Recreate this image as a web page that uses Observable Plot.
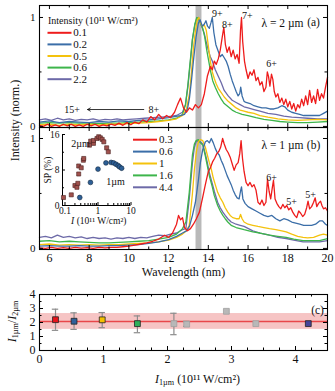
<!DOCTYPE html>
<html><head><meta charset="utf-8">
<script src="https://cdn.jsdelivr.net/npm/d3@7"></script>
<script src="https://cdn.jsdelivr.net/npm/@observablehq/plot@0.6"></script>
<style>
html,body{margin:0;padding:0;background:#fff;}
#fig{position:relative;width:335px;height:391px;overflow:hidden;font-family:"Liberation Serif",serif;}
#fig svg, #fig svg text{font-family:"Liberation Serif",serif !important;}
</style></head>
<body><div id="fig"></div>
<script>
// ---------------- DATA ----------------
const bandNm = [13.38, 13.68];
const legendTitleA = "Intensity (10¹¹ W/cm²)";
const legendA = ["0.1", "0.2", "0.5", "0.6", "2.2"];
const legendB = ["0.3", "0.6", "1", "1.6", "4.4"];

// panel (a), lambda = 2 um  [wavelength nm, normalized intensity]
const a01 = [[5.5,0.01],[5.7,0],[5.9,0.02],[6.1,0],[6.3,0.015],[6.5,0],[6.7,0.02],[6.9,0.005],[7.1,0.02],[7.3,0],[7.5,0.015],[7.7,0],[7.9,0.02],[8.1,0.005],[8.3,0.02],[8.5,0],[8.7,0.015],[8.9,0.005],[9.1,0.02],[9.3,0.01],[9.5,0.03],[9.7,0.01],[9.9,0.035],[10.1,0.015],[10.3,0.04],[10.5,0.025],[10.7,0.06],[10.9,0.04],[11.1,0.09],[11.3,0.06],[11.5,0.11],[11.7,0.07],[11.9,0.1],[12.1,0.08],[12.3,0.13],[12.45,0.2],[12.6,0.26],[12.75,0.17],[12.9,0.13],[13.05,0.17],[13.2,0.15],[13.35,0.2],[13.5,0.17],[13.65,0.2],[13.8,0.3],[13.95,0.46],[14.1,0.55],[14.2,0.52],[14.3,0.6],[14.4,0.57],[14.5,0.62],[14.6,0.7],[14.7,0.82],[14.78,0.91],[14.86,0.75],[14.95,0.68],[15.05,0.73],[15.15,0.64],[15.25,0.7],[15.35,0.62],[15.45,0.66],[15.55,0.58],[15.62,0.88],[15.67,1.0],[15.73,0.78],[15.82,0.6],[15.9,0.52],[16.0,0.44],[16.1,0.5],[16.2,0.47],[16.3,0.52],[16.4,0.42],[16.5,0.45],[16.6,0.38],[16.7,0.41],[16.8,0.32],[16.9,0.36],[16.97,0.5],[17.03,0.46],[17.1,0.37],[17.18,0.48],[17.25,0.43],[17.32,0.32],[17.4,0.27],[17.5,0.3],[17.6,0.22],[17.7,0.26],[17.8,0.2],[17.9,0.25],[18.0,0.18],[18.1,0.23],[18.2,0.16],[18.3,0.21],[18.4,0.14],[18.5,0.2],[18.6,0.17],[18.7,0.25],[18.8,0.19],[18.9,0.28],[19.0,0.2],[19.1,0.33],[19.2,0.22],[19.3,0.28],[19.4,0.21],[19.5,0.34],[19.6,0.24],[19.7,0.3],[19.8,0.26],[19.9,0.36],[20.0,0.45]];
const a02 = [[5.5,0.04],[6,0.05],[6.5,0.035],[7,0.045],[7.5,0.04],[8,0.035],[8.5,0.045],[9,0.04],[9.5,0.05],[10,0.045],[10.5,0.055],[11,0.06],[11.5,0.07],[12,0.08],[12.3,0.09],[12.6,0.1],[12.8,0.11],[12.95,0.16],[13.05,0.26],[13.15,0.42],[13.25,0.6],[13.38,0.82],[13.5,0.95],[13.58,0.98],[13.7,0.92],[13.8,0.94],[13.88,0.97],[13.96,0.92],[14.05,0.9],[14.13,0.95],[14.2,1.0],[14.28,0.86],[14.38,0.75],[14.48,0.7],[14.6,0.64],[14.7,0.66],[14.8,0.63],[14.9,0.6],[15.0,0.55],[15.1,0.48],[15.2,0.42],[15.3,0.37],[15.4,0.32],[15.5,0.28],[15.58,0.3],[15.63,0.36],[15.7,0.28],[15.8,0.23],[15.9,0.22],[16.1,0.21],[16.3,0.19],[16.5,0.18],[16.7,0.17],[16.9,0.17],[17.1,0.16],[17.3,0.16],[17.5,0.17],[17.7,0.19],[17.85,0.18],[18.0,0.15],[18.2,0.13],[18.4,0.12],[18.6,0.11],[18.8,0.1],[19.0,0.1],[19.2,0.1],[19.4,0.1],[19.6,0.1],[19.8,0.12],[20,0.14]];
const a05 = [[5.5,0.015],[6,0.02],[6.5,0.01],[7,0.02],[7.5,0.015],[8,0.02],[8.5,0.015],[9,0.02],[9.5,0.02],[10,0.025],[10.5,0.03],[11,0.035],[11.5,0.045],[12,0.055],[12.4,0.07],[12.7,0.1],[12.9,0.16],[13.05,0.3],[13.15,0.5],[13.25,0.72],[13.35,0.88],[13.45,0.98],[13.52,1.0],[13.6,0.95],[13.7,0.92],[13.8,0.93],[13.9,0.88],[14.0,0.74],[14.1,0.6],[14.2,0.5],[14.3,0.44],[14.4,0.39],[14.5,0.35],[14.65,0.31],[14.8,0.27],[15.0,0.23],[15.2,0.2],[15.4,0.17],[15.6,0.15],[15.8,0.14],[16.0,0.13],[16.3,0.12],[16.6,0.1],[17.0,0.085],[17.5,0.07],[18.0,0.06],[18.5,0.055],[19.0,0.06],[19.5,0.065],[20,0.06]];
const a06 = [[5.5,0.03],[6,0.035],[6.5,0.03],[7,0.035],[7.5,0.03],[8,0.03],[8.5,0.025],[9,0.03],[9.5,0.03],[10,0.035],[10.5,0.04],[11,0.045],[11.5,0.05],[12,0.06],[12.4,0.075],[12.7,0.11],[12.85,0.2],[12.97,0.38],[13.1,0.62],[13.2,0.8],[13.32,0.94],[13.42,1.0],[13.52,0.98],[13.62,0.94],[13.72,0.9],[13.82,0.82],[13.92,0.7],[14.02,0.6],[14.12,0.5],[14.22,0.42],[14.35,0.36],[14.5,0.3],[14.65,0.25],[14.8,0.21],[15.0,0.18],[15.2,0.15],[15.4,0.13],[15.7,0.11],[16.0,0.1],[16.4,0.08],[16.8,0.065],[17.2,0.055],[17.6,0.045],[18.0,0.04],[18.5,0.035],[19.0,0.035],[19.5,0.04],[20,0.045]];
const a22 = [[5.5,0.06],[5.8,0.07],[6.1,0.055],[6.4,0.075],[6.7,0.06],[7.0,0.07],[7.3,0.055],[7.6,0.065],[7.9,0.06],[8.2,0.07],[8.5,0.055],[8.8,0.065],[9.1,0.06],[9.4,0.07],[9.7,0.06],[10.0,0.065],[10.4,0.07],[10.8,0.075],[11.2,0.08],[11.6,0.085],[12.0,0.09],[12.4,0.1],[12.7,0.13],[12.85,0.2],[12.97,0.36],[13.1,0.6],[13.2,0.8],[13.32,0.93],[13.42,0.99],[13.5,1.0],[13.6,0.95],[13.7,0.9],[13.8,0.85],[13.9,0.77],[14.0,0.7],[14.1,0.64],[14.2,0.6],[14.35,0.52],[14.5,0.46],[14.65,0.4],[14.8,0.33],[15.0,0.28],[15.2,0.24],[15.4,0.22],[15.6,0.2],[15.8,0.18],[16.0,0.17],[16.3,0.155],[16.6,0.14],[17.0,0.12],[17.4,0.11],[17.8,0.095],[18.2,0.085],[18.6,0.08],[19.0,0.075],[19.5,0.07],[20,0.07]];

// panel (b), lambda = 1 um
const b03 = [[5.5,0.005],[5.8,0],[6.1,0.01],[6.4,0],[6.7,0.008],[7,0],[7.3,0.01],[7.6,0.002],[7.9,0.008],[8.2,0],[8.5,0.01],[8.8,0.005],[9.1,0.01],[9.4,0.01],[9.7,0.015],[10.0,0.02],[10.3,0.03],[10.6,0.04],[10.9,0.05],[11.2,0.065],[11.5,0.085],[11.8,0.12],[12.0,0.1],[12.2,0.14],[12.4,0.22],[12.5,0.3],[12.6,0.26],[12.7,0.28],[12.8,0.19],[12.95,0.16],[13.1,0.18],[13.25,0.22],[13.4,0.27],[13.55,0.33],[13.7,0.45],[13.85,0.58],[14.0,0.7],[14.12,0.74],[14.22,0.79],[14.32,0.82],[14.42,0.86],[14.52,0.88],[14.62,0.92],[14.72,1.0],[14.8,0.95],[14.9,0.9],[15.0,0.87],[15.1,0.83],[15.2,0.77],[15.3,0.71],[15.4,0.76],[15.5,0.78],[15.58,0.86],[15.65,0.98],[15.72,0.82],[15.8,0.7],[15.9,0.6],[16.0,0.57],[16.1,0.6],[16.2,0.56],[16.3,0.58],[16.4,0.53],[16.5,0.42],[16.6,0.4],[16.7,0.44],[16.8,0.39],[16.9,0.42],[16.98,0.63],[17.06,0.52],[17.14,0.45],[17.22,0.55],[17.28,0.62],[17.36,0.45],[17.45,0.41],[17.55,0.38],[17.65,0.36],[17.75,0.4],[17.85,0.37],[17.95,0.39],[18.05,0.35],[18.15,0.37],[18.25,0.33],[18.35,0.3],[18.45,0.28],[18.55,0.34],[18.65,0.32],[18.75,0.29],[18.85,0.31],[18.95,0.37],[19.02,0.43],[19.1,0.36],[19.2,0.38],[19.3,0.42],[19.38,0.46],[19.46,0.38],[19.55,0.41],[19.65,0.43],[19.72,0.39],[19.8,0.36],[19.9,0.37],[20.0,0.34]];
const b06 = [[5.5,0.02],[6,0.025],[6.5,0.02],[7,0.02],[7.5,0.025],[8,0.02],[8.5,0.02],[9,0.025],[9.5,0.025],[10,0.03],[10.5,0.035],[11,0.045],[11.5,0.06],[12,0.08],[12.4,0.11],[12.7,0.14],[12.9,0.16],[13.05,0.2],[13.2,0.3],[13.35,0.42],[13.5,0.62],[13.6,0.78],[13.72,0.9],[13.85,0.97],[13.95,0.98],[14.05,0.96],[14.15,1.0],[14.25,0.96],[14.35,0.91],[14.45,0.87],[14.55,0.85],[14.65,0.8],[14.75,0.76],[14.85,0.71],[14.95,0.66],[15.05,0.62],[15.15,0.58],[15.25,0.53],[15.35,0.49],[15.45,0.46],[15.55,0.45],[15.62,0.52],[15.67,0.56],[15.74,0.45],[15.85,0.41],[16.0,0.38],[16.2,0.36],[16.4,0.34],[16.6,0.32],[16.8,0.3],[17.0,0.29],[17.2,0.3],[17.4,0.27],[17.6,0.25],[17.8,0.27],[18.0,0.26],[18.2,0.24],[18.4,0.23],[18.6,0.22],[18.8,0.21],[19.0,0.21],[19.2,0.21],[19.4,0.22],[19.6,0.25],[19.75,0.25],[19.9,0.22],[20,0.21]];
const b1 = [[5.5,0.035],[6,0.04],[6.5,0.03],[7,0.035],[7.5,0.03],[8,0.035],[8.5,0.03],[9,0.035],[9.5,0.035],[10,0.04],[10.5,0.045],[11,0.05],[11.5,0.06],[12,0.075],[12.4,0.1],[12.7,0.13],[12.9,0.16],[13.04,0.21],[13.2,0.5],[13.3,0.72],[13.4,0.88],[13.5,0.97],[13.6,0.99],[13.72,0.98],[13.85,0.92],[13.95,0.85],[14.05,0.78],[14.15,0.72],[14.25,0.64],[14.35,0.58],[14.47,0.51],[14.6,0.46],[14.73,0.42],[14.85,0.37],[14.98,0.33],[15.1,0.3],[15.23,0.28],[15.4,0.27],[15.55,0.27],[15.62,0.31],[15.7,0.27],[15.8,0.24],[16.0,0.22],[16.24,0.21],[16.5,0.2],[16.8,0.19],[17.08,0.18],[17.4,0.17],[17.7,0.16],[17.92,0.15],[18.2,0.13],[18.5,0.11],[18.77,0.1],[19.0,0.095],[19.3,0.1],[19.6,0.12],[19.8,0.13],[20,0.12]];
const b16 = [[5.5,0.065],[6,0.07],[6.5,0.06],[7,0.065],[7.5,0.06],[8,0.055],[8.5,0.05],[9,0.05],[9.5,0.055],[10,0.06],[10.5,0.065],[11,0.07],[11.5,0.085],[12,0.1],[12.4,0.13],[12.7,0.18],[12.87,0.24],[13.04,0.51],[13.2,0.85],[13.3,0.95],[13.38,0.98],[13.5,0.99],[13.6,0.96],[13.72,0.94],[13.85,0.84],[13.95,0.75],[14.05,0.66],[14.2,0.56],[14.3,0.48],[14.47,0.39],[14.6,0.34],[14.73,0.3],[14.85,0.27],[14.98,0.24],[15.15,0.21],[15.4,0.19],[15.6,0.18],[15.8,0.17],[16.24,0.15],[16.6,0.14],[17.08,0.12],[17.5,0.11],[17.92,0.1],[18.3,0.085],[18.77,0.07],[19.2,0.07],[19.6,0.07],[20,0.09]];
const b44 = [[5.5,0.1],[5.8,0.11],[6.1,0.095],[6.4,0.12],[6.7,0.1],[7.0,0.11],[7.3,0.095],[7.6,0.105],[7.9,0.09],[8.2,0.1],[8.5,0.09],[8.8,0.095],[9.1,0.085],[9.4,0.095],[9.7,0.09],[10.0,0.1],[10.3,0.09],[10.6,0.1],[10.9,0.095],[11.2,0.11],[11.5,0.12],[11.8,0.115],[12.1,0.13],[12.4,0.14],[12.7,0.17],[12.87,0.18],[13.04,0.45],[13.2,0.78],[13.3,0.92],[13.38,0.97],[13.5,0.98],[13.6,0.97],[13.72,0.95],[13.85,0.86],[13.95,0.78],[14.05,0.69],[14.2,0.59],[14.3,0.52],[14.47,0.42],[14.6,0.37],[14.73,0.33],[14.85,0.3],[14.98,0.27],[15.15,0.24],[15.4,0.22],[15.6,0.21],[15.8,0.2],[16.24,0.16],[16.6,0.14],[17.08,0.12],[17.5,0.1],[17.92,0.09],[18.3,0.075],[18.77,0.06],[19.2,0.06],[19.6,0.06],[20,0.07]];

// charge-state annotations
const annA = [{x:14.45,y:1.034,t:"9+"},{x:14.95,y:0.936,t:"8+"},{x:15.96,y:1.018,t:"7+"},{x:17.18,y:0.575,t:"6+"}];
const annB = [{x:17.18,y:0.639,t:"6+"},{x:18.19,y:0.427,t:"5+"},{x:19.15,y:0.488,t:"5+"}];
const arrowA = {from: 10.75, to: 7.92, y: 0.155, left: "15+", right: "8+", xl: 7.14, xr: 11.26};

// inset: suppression (SP, %) vs intensity (1e11 W/cm2)
const inI2 = [0.09,0.155,0.2,0.23,0.245,0.26,0.26,0.31,0.36,0.37,0.55,0.6,0.73,0.73,0.93,1.05,1.18,1.34,1.5,1.83,2.05];
const inSP2 = [1.8,2.4,4.5,4.1,5.0,7.1,8.9,8.5,10.2,10.6,13.6,14.5,14.0,14.65,15.1,15.5,15.25,14.9,14.35,13.0,12.1];
const inI1 = [0.28,0.59,1.0,1.74,2.5,2.96,3.5,4.08,4.5,5.2];
const inSP1 = [1.8,5.2,8.2,9.6,9.7,9.6,9.3,9.0,8.7,8.4];

// panel (c): I_1um / I_2um vs I_1um
const cX = [0.25,0.54,0.98,1.53,2.10,2.30,2.92,3.38,4.20];
const cY = [2.2,2.09,2.19,1.92,1.92,1.88,2.8,1.92,1.92];
const cLo = [1.44,1.51,1.63,1.27,1.13,1.72,null,null,null];
const cHi = [2.95,2.69,2.71,2.47,2.66,2.08,null,null,null];
const cKind = ["red","blue","yellow","green","grey","grey","grey","grey","purple"];
const cBand = [1.51, 2.64];
const cMean = 2.07;

// ---------------- STYLE ----------------
const COL = ["#ee1c1c", "#3b6ea8", "#f4c20d", "#3db54b", "#6d6aa8"];
const cFill = {red:"#e8141c", blue:"#30609a", yellow:"#f5c000", green:"#2fb05a", grey:"#b8b8b8", purple:"#45459a"};
const FONT = "Liberation Serif";
const fig = document.getElementById("fig");
const baseStyle = {fontFamily: FONT, background: "transparent", overflow: "visible"};
const T = {fontFamily: FONT, fill: "#111"};
const numFmt = d => String(d);
function put(svg, left, top){ svg.style.position="absolute"; svg.style.left=left+"px"; svg.style.top=top+"px"; fig.appendChild(svg); return svg; }

function frameTicks(o){
  const {fw, fh, xMaj=[], xMin=[], yMaj=[], yMin=[], L=4, l=2.5, top=true, right=true, bottom=true, left=true} = o;
  const s = {stroke:"black", strokeWidth:1};
  const m = [];
  for (const [arr, len] of [[xMaj,L],[xMin,l]]) {
    if (!arr.length) continue;
    if (bottom) m.push(Plot.tickX(arr, {x:d=>d, insetTop: fh-len, ...s}));
    if (top) m.push(Plot.tickX(arr, {x:d=>d, insetBottom: fh-len, ...s}));
  }
  for (const [arr, len] of [[yMaj,L],[yMin,l]]) {
    if (!arr.length) continue;
    if (left) m.push(Plot.tickY(arr, {y:d=>d, insetRight: fw-len, ...s}));
    if (right) m.push(Plot.tickY(arr, {y:d=>d, insetLeft: fw-len, ...s}));
  }
  return m;
}
function spectra(list){
  return list.map((d,i)=>({d,i})).reverse().map(({d,i}) =>
    Plot.line(d, {x:d=>d[0], y:d=>d[1], stroke: COL[i], strokeWidth: 1.3, strokeLinejoin:"round"}));
}
function rich(svg, plain, parts){
  svg.querySelectorAll("text").forEach(t => {
    if (t.textContent !== plain) return;
    t.textContent = "";
    for (const [s, k] of parts) {
      const ts = document.createElementNS("http://www.w3.org/2000/svg","tspan");
      ts.textContent = s;
      if (k && k.includes("i")) ts.setAttribute("font-style","italic");
      if (k && k.includes("sub")) { ts.setAttribute("font-size","0.68em"); ts.setAttribute("baseline-shift","-22%"); }
      t.appendChild(ts);
    }
  });
}

const xDom = [5.5, 20];
const yDomA = [-0.01, 1.11], yDomB = [-0.01, 1.1];
const fw = 288, fh = 122;
const xMaj = d3.range(6, 21, 2), xMin = d3.range(7, 20, 2);
// page-pixel scales (legend placement only)
const xP = d3.scaleLinear(xDom, [39, 327]);
const yPA = d3.scaleLinear(yDomA, [127, 5]);
const yPB = d3.scaleLinear(yDomB, [249, 127]);

function legend(labels, xs, ys, x0, x1, xl, y0, step, fs){
  const m = [];
  labels.forEach((lab, i) => {
    const yy = ys.invert(y0 + i*step);
    m.push(Plot.ruleY([yy], {x1: xs.invert(x0), x2: xs.invert(x1), stroke: COL[i], strokeWidth: 2}));
    m.push(Plot.text([lab], {x: xs.invert(xl), y: yy, text: d=>d, textAnchor:"start", fontSize: fs, ...T}));
  });
  return m;
}
const M = {textAnchor: "middle"};

// ---------------- PANEL (a) ----------------
const plotA = Plot.plot({
  width: 335, height: 130, marginLeft: 39, marginRight: 8, marginTop: 5, marginBottom: 3,
  x: {domain: xDom, axis: null}, y: {domain: yDomA},
  style: baseStyle,
  marks: [
    Plot.rect([bandNm], {x1: d=>d[0], x2: d=>d[1], y1: yDomA[0], y2: yDomA[1], fill: "#b9b9b9"}),
    ...spectra([a01, a02, a05, a06, a22]),
    Plot.frame({stroke: "black", strokeWidth: 1.1}),
    ...frameTicks({fw, fh, xMaj, xMin, yMaj: [0, 1], yMin: [0.5]}),
    Plot.axisY({ticks: [0, 1], tickSize: 0, tickPadding: 4, fontSize: 11, label: null, tickFormat: numFmt, ...T}),
    Plot.text(annA, {x: "x", y: "y", text: "t", fontSize: 10, ...T}),
    Plot.arrow([arrowA], {x1: "from", x2: "to", y1: "y", y2: "y", stroke: "black", strokeWidth: 0.8, headLength: 6}),
    Plot.text([arrowA], {x: "xl", y: "y", text: "left", fontSize: 10, ...T}),
    Plot.text([arrowA], {x: "xr", y: "y", text: "right", fontSize: 10, ...T}),
    Plot.text([legendTitleA], {x: xP.invert(47.5), y: yPA.invert(20.5), text: d=>d, textAnchor: "start", fontSize: 10, ...T}),
    ...legend(legendA, xP, yPA, 47.5, 71.5, 72.8, 32.3, 11.6, 11),
    Plot.text(["λ = 2 µm"], {frameAnchor: "top-right", dx: -45, dy: 13, text: d=>d, fontSize: 11.5, ...M, ...T}),
    Plot.text(["(a)"], {frameAnchor: "top-right", dx: -14, dy: 12, text: d=>d, fontSize: 11.5, ...M, ...T})
  ]
});
put(plotA, 0, 0);

// ---------------- PANEL (b) ----------------
const plotB = Plot.plot({
  width: 335, height: 179, marginLeft: 39, marginRight: 8, marginTop: 7, marginBottom: 50,
  x: {domain: xDom}, y: {domain: yDomB},
  style: baseStyle,
  marks: [
    Plot.rect([bandNm], {x1: d=>d[0], x2: d=>d[1], y1: yDomB[0], y2: yDomB[1], fill: "#b9b9b9"}),
    ...spectra([b03, b06, b1, b16, b44]),
    Plot.frame({stroke: "black", strokeWidth: 1.1}),
    ...frameTicks({fw, fh, xMaj, xMin, yMaj: [0, 1], yMin: [0.5]}),
    Plot.axisY({ticks: [0, 1], tickSize: 0, tickPadding: 4, fontSize: 11, label: null, tickFormat: numFmt, ...T}),
    Plot.axisX({ticks: xMaj, tickSize: 0, tickPadding: 4, fontSize: 12, label: null, tickFormat: numFmt, ...T}),
    Plot.text(["Wavelength (nm)"], {frameAnchor: "bottom", dy: 26, text: d=>d, fontSize: 12, ...M, ...T}),
    Plot.text(["Intensity (norm.)"], {frameAnchor: "top-left", dx: -29, dy: -7, rotate: -90, text: d=>d, fontSize: 12, ...M, ...T}),
    Plot.text(annB, {x: "x", y: "y", text: "t", fontSize: 10, ...T}),
    ...legend(legendB, xP, yPB, 133, 157, 158.5, 139.2, 11.9, 11),
    Plot.text(["λ = 1 µm"], {frameAnchor: "top-right", dx: -45, dy: 13, text: d=>d, fontSize: 11.5, ...M, ...T}),
    Plot.text(["(b)"], {frameAnchor: "top-right", dx: -14, dy: 13, text: d=>d, fontSize: 11.5, ...M, ...T})
  ]
});
put(plotB, 0, 120);

// ---------------- INSET ----------------
const inXDom = [0.084, 10], inYDom = [0, 16];
const inset = Plot.plot({
  width: 140, height: 102, marginLeft: 62, marginRight: 9.5, marginTop: 7, marginBottom: 24,
  x: {type: "log", domain: inXDom}, y: {domain: inYDom},
  style: baseStyle,
  marks: [
    Plot.ruleX([inXDom[0]], {stroke: "black", strokeWidth: 1}),
    Plot.ruleY([inYDom[0]], {stroke: "black", strokeWidth: 1}),
    ...frameTicks({fw: 68.5, fh: 71, xMaj: [0.1, 1, 10], xMin: [0.2,0.3,0.4,0.5,0.6,0.7,0.8,0.9,2,3,4,5,6,7,8,9], yMaj: [0, 8, 16], yMin: [4, 12], L: 3, l: 2, top: false, right: false}),
    Plot.axisY({ticks: [0, 8, 16], tickSize: 0, tickPadding: 3, fontSize: 9.5, label: null, tickFormat: numFmt, ...T}),
    Plot.axisX({ticks: [0.1, 1, 10], tickSize: 0, tickPadding: 2, fontSize: 9.5, label: null, tickFormat: numFmt, ...T}),
    Plot.dot(inI2.map((v,i)=>[v, inSP2[i]]), {x: d=>d[0], y: d=>d[1], symbol: "square", r: 2.3, fill: "#a0514d", stroke: "#4a2220", strokeWidth: 0.6}),
    Plot.dot(inI1.map((v,i)=>[v, inSP1[i]]), {x: d=>d[0], y: d=>d[1], symbol: "circle", r: 2.4, fill: "#2d5f96", stroke: "#13283f", strokeWidth: 0.6}),
    Plot.text(["2µm"], {x: 0.295, y: 14.0, text: d=>d, fontSize: 10, ...T}),
    Plot.text(["1µm"], {x: 3.39, y: 5.45, text: d=>d, fontSize: 10, ...T}),
    Plot.text(["SP (%)"], {frameAnchor: "left", dx: -15, rotate: -90, text: d=>d, fontSize: 9.5, ...M, ...T}),
    Plot.text(["I (10¹¹ W/cm²)"], {frameAnchor: "bottom", dy: 18, dx: 2, text: d=>d, fontSize: 9.5, ...M, ...T})
  ]
});
rich(inset, "I (10¹¹ W/cm²)", [["I","i"],[" (10¹¹ W/cm²)"]]);
put(inset, 0, 127);

// ---------------- PANEL (c) ----------------
const cData = cX.map((x,i) => ({x, y: cY[i], lo: cLo[i], hi: cHi[i], k: cKind[i]}));
const cErr = cData.filter(d => d.lo != null);
const cap = 0.05;
const plotC = Plot.plot({
  width: 335, height: 111, marginLeft: 39, marginRight: 8, marginTop: 14, marginBottom: 41,
  x: {domain: [0, 4.5]}, y: {domain: [0, 4]},
  style: baseStyle,
  marks: [
    Plot.rect([cBand], {x1: 0, x2: 4.5, y1: d=>d[0], y2: d=>d[1], fill: "#f6c4c4"}),
    Plot.ruleY([cMean], {stroke: "#e8474a", strokeWidth: 1.3}),
    Plot.ruleX(cErr, {x: "x", y1: "lo", y2: "hi", stroke: "#8c8c8c", strokeWidth: 1.2}),
    Plot.ruleY(cErr, {y: "lo", x1: d=>d.x-cap, x2: d=>d.x+cap, stroke: "#8c8c8c", strokeWidth: 1.2}),
    Plot.ruleY(cErr, {y: "hi", x1: d=>d.x-cap, x2: d=>d.x+cap, stroke: "#8c8c8c", strokeWidth: 1.2}),
    Plot.dot(cData, {x: "x", y: "y", symbol: "square", r: 3.3, fill: d=>cFill[d.k], stroke: d=>d.k==="grey" ? "#a0a0a0" : "#222", strokeWidth: 0.8}),
    Plot.frame({stroke: "black", strokeWidth: 1.1}),
    ...frameTicks({fw, fh: 56, xMaj: [0,1,2,3,4], xMin: d3.range(0.25, 4.5, 0.25).filter(v => v % 1 !== 0), yMaj: [0,1,2,3,4], yMin: [0.5,1.5,2.5,3.5], L: 4, l: 2.5}),
    Plot.axisY({ticks: [0,1,2,3,4], tickSize: 0, tickPadding: 4, fontSize: 12, label: null, tickFormat: numFmt, ...T}),
    Plot.axisX({ticks: [0,1,2,3,4], tickSize: 0, tickPadding: 4, fontSize: 12, label: null, tickFormat: numFmt, ...T}),
    Plot.text(["(c)"], {frameAnchor: "top-right", dx: -10, dy: 11, text: d=>d, fontSize: 11.5, ...M, ...T}),
    Plot.text(["I1µm/I2µm"], {frameAnchor: "left", dx: -27, dy: -1, rotate: -90, text: d=>d, fontSize: 12, ...M, ...T}),
    Plot.text(["I1µm (10¹¹ W/cm²)"], {frameAnchor: "bottom", dy: 32, dx: 14, text: d=>d, fontSize: 12, ...M, ...T})
  ]
});
rich(plotC, "I1µm/I2µm", [["I","i"],["1µm","sub"],["/"],["I","i"],["2µm","sub"]]);
rich(plotC, "I1µm (10¹¹ W/cm²)", [["I","i"],["1µm","sub"],[" (10¹¹ W/cm²)"]]);
put(plotC, 0, 280);
</script>
</body></html>
